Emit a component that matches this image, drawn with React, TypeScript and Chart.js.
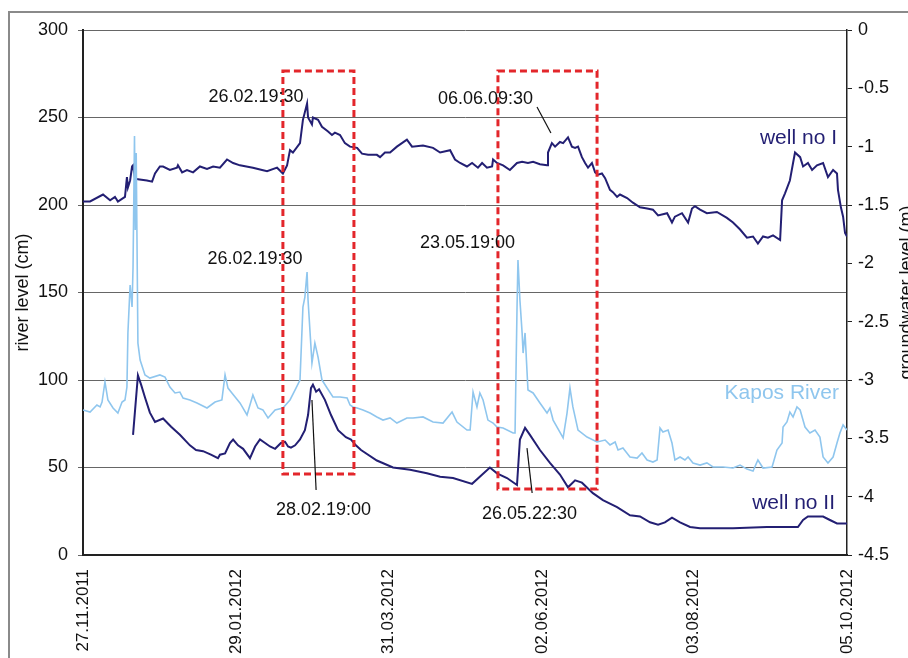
import { useEffect, useRef } from "react";
import { Chart, registerables } from "chart.js";

Chart.register(...registerables);

// x axis: days since 27.11.2011
const dateTickLabels = ["27.11.2011", "29.01.2012", "31.03.2012", "02.06.2012", "03.08.2012", "05.10.2012"];
const dateTickDays = [0, 63, 125, 188, 250, 313];

// well no I – groundwater level (m)
const wellIDays = [0, 2.9, 8.2, 11.1, 13.1, 14.3, 17.2, 18.0, 18.4, 19.3,
  20.1, 20.5, 21.3, 22.5, 26.2, 28.3, 29.5, 31.5, 32.8, 35.6,
  38.5, 38.9, 40.6, 42.6, 45.1, 47.9, 50.8, 53.3, 56.1, 59.0,
  61.5, 64.3, 69.6, 75.4, 79.5, 81.9, 83.6, 84.8, 86.0, 88.9,
  90.1, 91.8, 92.2, 93.8, 94.2, 96.3, 97.9, 100.4, 102.0, 103.2,
  105.3, 107.3, 109.4, 112.3, 114.3, 116.8, 120.4, 121.7, 123.7, 125.8,
  128.6, 132.7, 134.8, 139.3, 143.4, 146.3, 150.4, 152.4, 154.5, 157.3,
  159.4, 161.8, 163.5, 165.5, 167.6, 168.0, 169.6, 172.1, 174.9, 177.8,
  179.9, 182.3, 184.4, 187.2, 190.1, 190.5, 192.1, 193.4, 195.4, 196.7,
  198.7, 200.3, 201.6, 202.8, 204.4, 205.7, 206.9, 208.5, 209.8, 211.0,
  212.6, 213.9, 215.9, 217.1, 218.8, 220.0, 222.9, 225.3, 228.2, 231.1,
  233.5, 235.6, 239.3, 241.3, 242.5, 245.4, 247.9, 249.5, 250.7, 252.8,
  255.6, 259.7, 263.8, 266.3, 269.2, 272.0, 274.5, 276.5, 278.6, 280.6,
  282.7, 285.6, 286.4, 287.6, 289.6, 290.9, 291.7, 293.8, 295.0, 297.0,
  298.7, 300.7, 303.2, 305.2, 307.3, 308.9, 309.3, 310.5, 311.4, 312.2,
  313.0];
const wellIValues = [-1.47, -1.47, -1.41, -1.46, -1.43, -1.47, -1.43, -1.26, -1.35, -1.29,
  -1.17, -1.16, -1.27, -1.28, -1.29, -1.30, -1.23, -1.17, -1.17, -1.20,
  -1.18, -1.16, -1.22, -1.20, -1.22, -1.17, -1.19, -1.17, -1.18, -1.11,
  -1.14, -1.16, -1.18, -1.21, -1.18, -1.23, -1.16, -1.03, -1.05, -0.97,
  -0.77, -0.63, -0.75, -0.81, -0.75, -0.77, -0.83, -0.87, -0.90, -0.88,
  -0.90, -0.97, -1.00, -1.01, -1.06, -1.07, -1.07, -1.09, -1.05, -1.05,
  -1.00, -0.94, -1.00, -0.99, -1.01, -1.05, -1.03, -1.11, -1.14, -1.17,
  -1.14, -1.18, -1.14, -1.18, -1.17, -1.11, -1.14, -1.16, -1.20, -1.14,
  -1.13, -1.14, -1.13, -1.15, -1.16, -1.05, -0.97, -1.00, -0.96, -0.97,
  -0.92, -1.00, -1.01, -1.00, -1.09, -1.14, -1.18, -1.14, -1.22, -1.24,
  -1.23, -1.27, -1.37, -1.39, -1.43, -1.41, -1.44, -1.48, -1.52, -1.53,
  -1.54, -1.59, -1.57, -1.65, -1.60, -1.57, -1.65, -1.53, -1.51, -1.54,
  -1.57, -1.56, -1.61, -1.65, -1.71, -1.78, -1.77, -1.83, -1.77, -1.78,
  -1.76, -1.80, -1.46, -1.40, -1.29, -1.14, -1.05, -1.09, -1.17, -1.14,
  -1.20, -1.16, -1.14, -1.26, -1.20, -1.23, -1.37, -1.52, -1.60, -1.74,
  -1.77];

// Kapos River – river level (cm)
const kaposDays = [0, 2.9, 5.7, 7.0, 7.8, 9.0, 10.2, 12.3, 14.3, 16.0,
  17.2, 18.0, 18.4, 19.3, 20.1, 20.5, 21.1, 21.4, 21.8, 22.5,
  23.4, 25.4, 27.4, 31.5, 33.6, 35.6, 37.7, 39.7, 41.0, 43.8,
  46.7, 50.8, 54.1, 56.9, 58.2, 59.4, 61.0, 64.3, 67.2, 69.6,
  71.7, 73.7, 75.8, 78.7, 81.9, 84.8, 86.9, 88.9, 90.1, 90.9,
  91.8, 92.2, 93.8, 95.0, 96.3, 97.9, 100.0, 102.4, 105.3, 108.2,
  109.4, 110.6, 112.3, 114.7, 117.6, 120.4, 122.9, 125.8, 128.6, 132.7,
  135.2, 139.3, 143.4, 147.5, 151.2, 153.2, 157.3, 158.6, 159.8, 161.4,
  162.6, 163.9, 165.9, 168.0, 169.6, 172.1, 176.2, 177.0, 177.8, 178.2,
  179.0, 179.9, 180.3, 181.1, 182.3, 184.4, 187.2, 190.1, 191.3, 192.6,
  196.7, 198.3, 199.5, 200.7, 202.8, 206.5, 210.6, 213.9, 215.9, 218.0,
  219.2, 221.2, 224.1, 227.0, 229.0, 231.1, 233.5, 235.2, 236.4, 237.6,
  239.7, 241.3, 242.5, 244.6, 246.6, 247.9, 249.9, 252.8, 255.6, 258.1,
  262.2, 266.3, 269.2, 272.0, 274.5, 276.5, 278.6, 282.3, 284.3, 286.4,
  286.8, 288.4, 289.6, 290.9, 292.5, 293.8, 295.8, 297.8, 299.9, 301.9,
  303.2, 305.2, 307.3, 308.9, 310.1, 311.4, 313.0];
const kaposValues = [82.9, 81.7, 85.7, 84.6, 87.4, 98.9, 88.6, 84.0, 81.1, 87.4,
  88.6, 96.0, 126.9, 154.3, 141.7, 164.6, 239.4, 185.7, 229.7, 121.1,
  111.4, 102.9, 101.1, 102.9, 101.7, 96.0, 92.6, 93.1, 89.7, 88.6,
  86.9, 84.0, 87.4, 88.6, 102.9, 95.4, 92.6, 86.9, 80.0, 91.4,
  84.0, 82.9, 78.3, 82.9, 84.0, 88.6, 94.3, 100.0, 141.7, 147.4,
  161.7, 145.7, 109.7, 121.1, 113.1, 100.0, 95.4, 90.3, 90.3, 89.7,
  85.7, 84.6, 84.0, 82.9, 81.1, 78.9, 77.1, 78.3, 75.4, 78.3,
  78.3, 78.9, 76.0, 75.4, 81.7, 76.0, 71.4, 71.4, 93.1, 84.6,
  92.6, 88.6, 77.1, 75.4, 73.1, 72.6, 69.7, 69.7, 140.0, 168.6,
  145.7, 126.9, 115.4, 126.9, 94.3, 92.6, 86.9, 81.1, 84.0, 77.1,
  66.9, 81.1, 95.4, 84.6, 71.4, 67.4, 64.6, 65.7, 62.9, 64.6,
  60.0, 61.1, 56.0, 55.4, 58.3, 54.3, 53.1, 54.3, 72.6, 70.3,
  71.4, 64.0, 54.3, 56.0, 54.3, 56.0, 52.6, 51.4, 52.6, 50.3,
  50.3, 49.7, 51.4, 49.1, 48.0, 54.3, 49.7, 50.3, 60.0, 64.0,
  73.1, 76.0, 81.7, 78.9, 84.6, 82.9, 73.1, 69.7, 71.4, 67.4,
  56.0, 52.6, 56.0, 64.0, 69.7, 74.3, 71.4];

// well no II – groundwater level (m)
const wellIIDays = [20.5, 22.5, 23.8, 25.4, 27.4, 29.5, 32.8, 36.1, 39.7, 43.8,
  46.3, 49.2, 52.4, 55.3, 56.1, 58.2, 60.2, 61.5, 63.5, 65.6,
  68.4, 70.5, 72.5, 74.6, 76.6, 78.7, 81.1, 82.8, 84.0, 85.2,
  86.9, 88.9, 90.9, 92.2, 93.4, 94.2, 95.5, 96.7, 99.1, 101.6,
  104.5, 107.7, 109.8, 111.8, 113.9, 120.4, 127.0, 134.0, 140.9, 146.3,
  151.6, 159.4, 166.7, 169.6, 173.7, 177.8, 179.0, 181.1, 183.1, 187.2,
  191.3, 195.4, 198.7, 201.6, 204.4, 208.9, 213.0, 218.8, 224.1, 228.2,
  232.3, 235.6, 238.4, 241.3, 244.6, 248.7, 252.8, 266.3, 280.2, 292.9,
  295.0, 297.0, 303.2, 306.0, 308.9, 313.0];
const wellIIValues = [-3.47, -2.96, -3.04, -3.15, -3.28, -3.36, -3.33, -3.40, -3.47, -3.56,
  -3.60, -3.61, -3.64, -3.67, -3.64, -3.63, -3.54, -3.51, -3.56, -3.59,
  -3.67, -3.57, -3.51, -3.54, -3.57, -3.59, -3.54, -3.53, -3.57, -3.58,
  -3.56, -3.51, -3.43, -3.30, -3.07, -3.04, -3.10, -3.08, -3.17, -3.30,
  -3.43, -3.49, -3.51, -3.56, -3.60, -3.69, -3.75, -3.77, -3.80, -3.83,
  -3.84, -3.89, -3.75, -3.80, -3.84, -3.90, -3.51, -3.41, -3.47, -3.60,
  -3.71, -3.81, -3.92, -3.86, -3.88, -3.97, -4.03, -4.09, -4.16, -4.17,
  -4.22, -4.24, -4.22, -4.18, -4.22, -4.26, -4.27, -4.27, -4.26, -4.26,
  -4.20, -4.17, -4.17, -4.20, -4.23, -4.23];

// annotation texts (day, river-level cm) and leader lines
const noteTexts = ["26.02.19:30", "06.06.09:30", "26.02.19:30", "23.05.19:00", "28.02.19:00", "26.05.22:30"];
const noteDays = [70.9, 164.9, 70.5, 157.5, 98.5, 182.9];
const noteLevels = [261.7, 260.6, 169.1, 178.3, 25.7, 23.4];
const leaderLines = [
  [186.0, 256.0, 191.7, 241.1],
  [93.8, 88.6, 95.5, 37.1],
  [181.9, 61.1, 184.0, 35.4],
];
// dotted rectangles: [dayFrom, dayTo, cmBottom, cmTop]
const eventBoxes = [
  [81.9, 111.0, 46.3, 276.6],
  [170.0, 210.6, 37.7, 276.6],
];
// series labels (right aligned at day, cm)
const seriesLabels = ["well no I", "Kapos River", "well no II"];
const seriesLabelDays = [308.9, 309.7, 308.1];
const seriesLabelLevels = [238.3, 92.6, 29.7];

const NAVY = "#231f73";
const LIGHT = "#8fc6ee";
const FONT = "'Liberation Sans', Arial, sans-serif";

const toPoints = (days: number[], vals: number[]) =>
  days.slice(0, Math.min(days.length, vals.length)).map((d, i) => ({ x: d, y: vals[i] }));

const overlayPlugin = {
  id: "overlay",
  beforeDraw(chart: any) {
    const ctx = chart.ctx;
    ctx.save();
    ctx.strokeStyle = "#8a8a8a";
    ctx.lineWidth = 2;
    ctx.beginPath();
    ctx.moveTo(9, 660);
    ctx.lineTo(9, 12);
    ctx.lineTo(910, 12);
    ctx.stroke();
    ctx.restore();
  },
  afterDatasetsDraw(chart: any) {
    const ctx = chart.ctx;
    const xs = chart.scales.x;
    const yl = chart.scales.yL;
    const px = (d: number) => xs.getPixelForValue(d);
    const py = (v: number) => yl.getPixelForValue(v);
    ctx.save();
    // boxes
    ctx.strokeStyle = "#e3262b";
    ctx.lineWidth = 3;
    ctx.setLineDash([7, 4]);
    eventBoxes.forEach(([d0, d1, c0, c1]) => {
      ctx.strokeRect(px(d0), py(c1), px(d1) - px(d0), py(c0) - py(c1));
    });
    ctx.setLineDash([]);
    // leader lines
    ctx.strokeStyle = "#111";
    ctx.lineWidth = 1.2;
    leaderLines.forEach(([d0, c0, d1, c1]) => {
      ctx.beginPath();
      ctx.moveTo(px(d0), py(c0));
      ctx.lineTo(px(d1), py(c1));
      ctx.stroke();
    });
    // notes
    ctx.fillStyle = "#111";
    ctx.font = `18px ${FONT}`;
    ctx.textAlign = "center";
    ctx.textBaseline = "middle";
    noteTexts.forEach((t, i) => ctx.fillText(t, px(noteDays[i]), py(noteLevels[i])));
    // series labels
    ctx.font = `21px ${FONT}`;
    ctx.textAlign = "right";
    const colors = [NAVY, LIGHT, NAVY];
    seriesLabels.forEach((t, i) => {
      ctx.fillStyle = colors[i];
      ctx.fillText(t, px(seriesLabelDays[i]), py(seriesLabelLevels[i]));
    });
    // axis titles
    ctx.fillStyle = "#111";
    ctx.font = `18px ${FONT}`;
    ctx.textAlign = "center";
    const midY = (chart.chartArea.top + chart.chartArea.bottom) / 2;
    [["river level (cm)", 23], ["groundwater level (m)", 907]].forEach(([t, x]: any) => {
      ctx.save();
      ctx.translate(x, midY);
      ctx.rotate(-Math.PI / 2);
      ctx.fillText(t, 0, 0);
      ctx.restore();
    });
    ctx.restore();
  },
};

export default function App() {
  const ref = useRef<HTMLCanvasElement | null>(null);
  useEffect(() => {
    if (!ref.current) return;
    Chart.defaults.font.family = FONT;
    const chart = new Chart(ref.current, {
      type: "line",
      data: {
        datasets: [
          {
            label: "Kapos River",
            data: toPoints(kaposDays, kaposValues),
            borderColor: LIGHT,
            borderWidth: 1.6,
            pointRadius: 0,
            yAxisID: "yL",
          },
          {
            label: "well no I",
            data: toPoints(wellIDays, wellIValues),
            borderColor: NAVY,
            borderWidth: 2,
            pointRadius: 0,
            yAxisID: "yR",
          },
          {
            label: "well no II",
            data: toPoints(wellIIDays, wellIIValues),
            borderColor: NAVY,
            borderWidth: 2,
            pointRadius: 0,
            yAxisID: "yR",
          },
        ],
      },
      options: {
        animation: false,
        responsive: false,
        devicePixelRatio: 1,
        layout: { padding: { top: 30, left: 0, right: 0, bottom: 0 } },
        plugins: { legend: { display: false }, tooltip: { enabled: false } },
        elements: { line: { tension: 0 } },
        scales: {
          x: {
            type: "linear",
            min: 0,
            max: 313,
            grid: { display: false, drawTicks: false },
            border: { display: true, color: "#222", width: 2 },
            afterBuildTicks: (s: any) => {
              s.ticks = dateTickDays.map((v) => ({ value: v }));
            },
            afterFit: (s: any) => {
              s.height = 103;
            },
            ticks: {
              autoSkip: false,
              minRotation: 90,
              maxRotation: 90,
              padding: 14,
              color: "#111",
              font: { size: 17 },
              callback: (v: any) => {
                const i = dateTickDays.indexOf(Number(v));
                return i >= 0 ? dateTickLabels[i] : "";
              },
            },
          },
          yL: {
            type: "linear",
            position: "left",
            min: 0,
            max: 300,
            afterFit: (s: any) => {
              s.width = 83;
            },
            grid: { color: "#666", lineWidth: 1, drawTicks: true, tickLength: 5 },
            border: { display: true, color: "#222", width: 2 },
            ticks: { stepSize: 50, padding: 10, color: "#111", font: { size: 18 } },
          },
          yR: {
            type: "linear",
            position: "right",
            min: -4.5,
            max: 0,
            afterFit: (s: any) => {
              s.width = 61;
            },
            grid: { drawOnChartArea: false, color: "#222", drawTicks: true, tickLength: 5 },
            border: { display: true, color: "#222", width: 1.5 },
            ticks: {
              stepSize: 0.5,
              padding: 6,
              color: "#111",
              font: { size: 18 },
              callback: (v: any) => String(Math.round(Number(v) * 10) / 10),
            },
          },
        },
      },
      plugins: [overlayPlugin],
    } as any);
    return () => chart.destroy();
  }, []);
  return (
    <div style={{ position: "absolute", left: 0, top: 0, width: 908, height: 658, background: "#fff" }}>
      <canvas ref={ref} width={908} height={658} style={{ display: "block" }} />
    </div>
  );
}
